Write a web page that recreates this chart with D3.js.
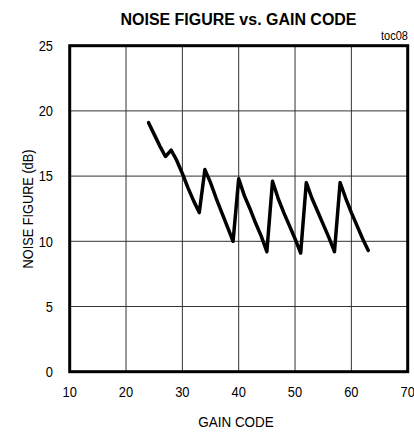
<!DOCTYPE html>
<html lang="en">
<head>
<meta charset="utf-8">
<title>Noise figure vs. gain code</title>
<script src="https://cdn.jsdelivr.net/npm/d3@7"></script>
<style>
  body { margin: 0; background: #fff; }
  svg { display: block; font-family: "Liberation Sans", Arial, sans-serif; }
  .grid line { stroke: #333; stroke-width: 1px; }
  .tick-label { font-size: 15px; fill: #000; }
</style>
</head>
<body>
<svg id="vis" width="414" height="433"></svg>
<script>
// gain code (x) and noise figure in dB (y)
var gainCode = [24, 25, 26, 27, 28, 29, 30, 31, 32, 33,
                34, 35, 36, 37, 38, 39, 40, 41, 42, 43,
                44, 45, 46, 47, 48, 49, 50, 51, 52, 53,
                54, 55, 56, 57, 58, 59, 60, 61, 62, 63];
var noiseFigure = [19.1, 18.2, 17.3, 16.5, 17.0, 16.2, 15.2, 14.1, 13.1, 12.2,
                   15.5, 14.5, 13.3, 12.2, 11.1, 10.0, 14.8, 13.5, 12.5, 11.4,
                   10.4, 9.2, 14.6, 13.3, 12.2, 11.2, 10.2, 9.1, 14.5, 13.3,
                   12.3, 11.3, 10.3, 9.2, 14.5, 13.3, 12.2, 11.2, 10.2, 9.3];
var xTicks = [10, 20, 30, 40, 50, 60, 70];
var yTicks = [0, 5, 10, 15, 20, 25];

var svg = d3.select("#vis");
var plotL = 69.7, plotR = 407.7, plotT = 45.7, plotB = 371.7;
var narrow = 0.86; // the original uses a condensed face

var x = d3.scaleLinear().domain([10, 70]).range([plotL, plotR]);
var y = d3.scaleLinear().domain([0, 25]).range([plotB, plotT]);

// grid
var grid = svg.append("g").attr("class", "grid");
grid.selectAll(".vx")
    .data(xTicks.slice(1, -1))
  .enter().append("line")
    .attr("x1", function(d) { return x(d); })
    .attr("x2", function(d) { return x(d); })
    .attr("y1", plotT).attr("y2", plotB);
grid.selectAll(".hy")
    .data(yTicks.slice(1, -1))
  .enter().append("line")
    .attr("x1", plotL).attr("x2", plotR)
    .attr("y1", function(d) { return y(d); })
    .attr("y2", function(d) { return y(d); });

// frame
svg.append("rect")
    .attr("x", plotL).attr("y", plotT)
    .attr("width", plotR - plotL).attr("height", plotB - plotT)
    .attr("fill", "none")
    .attr("stroke", "#000")
    .attr("stroke-width", 3);

// tick labels
svg.selectAll(".xl")
    .data(xTicks)
  .enter().append("text")
    .attr("class", "tick-label")
    .attr("transform", function(d) { return "translate(" + x(d) + ",397) scale(" + narrow + ",1)"; })
    .attr("text-anchor", "middle")
    .text(function(d) { return d; });

svg.selectAll(".yl")
    .data(yTicks)
  .enter().append("text")
    .attr("class", "tick-label")
    .attr("transform", function(d) { return "translate(53," + (y(d) + 5.3) + ") scale(" + narrow + ",1)"; })
    .attr("text-anchor", "end")
    .text(function(d) { return d; });

// data line
var pts = gainCode.map(function(c, i) { return [c, noiseFigure[i]]; });
var line = d3.line()
    .x(function(d) { return x(d[0]); })
    .y(function(d) { return y(d[1]); });

svg.append("path")
    .datum(pts)
    .attr("d", line)
    .attr("fill", "none")
    .attr("stroke", "#000")
    .attr("stroke-width", 3.5)
    .attr("stroke-linejoin", "round")
    .attr("stroke-linecap", "round");

// titles
svg.append("text")
    .attr("transform", "translate(238.5,24.5) scale(0.94,1)")
    .attr("text-anchor", "middle")
    .style("font-size", "17px")
    .style("font-weight", "bold")
    .text("NOISE FIGURE vs. GAIN CODE");

svg.append("text")
    .attr("transform", "translate(408,40) scale(0.92,1)")
    .attr("text-anchor", "end")
    .style("font-size", "12px")
    .text("toc08");

svg.append("text")
    .attr("transform", "translate(236,427) scale(0.9,1)")
    .attr("text-anchor", "middle")
    .style("font-size", "15px")
    .text("GAIN CODE");

svg.append("text")
    .attr("transform", "translate(33,209) rotate(-90) scale(0.85,1)")
    .attr("text-anchor", "middle")
    .style("font-size", "15px")
    .text("NOISE FIGURE (dB)");
</script>
</body>
</html>
